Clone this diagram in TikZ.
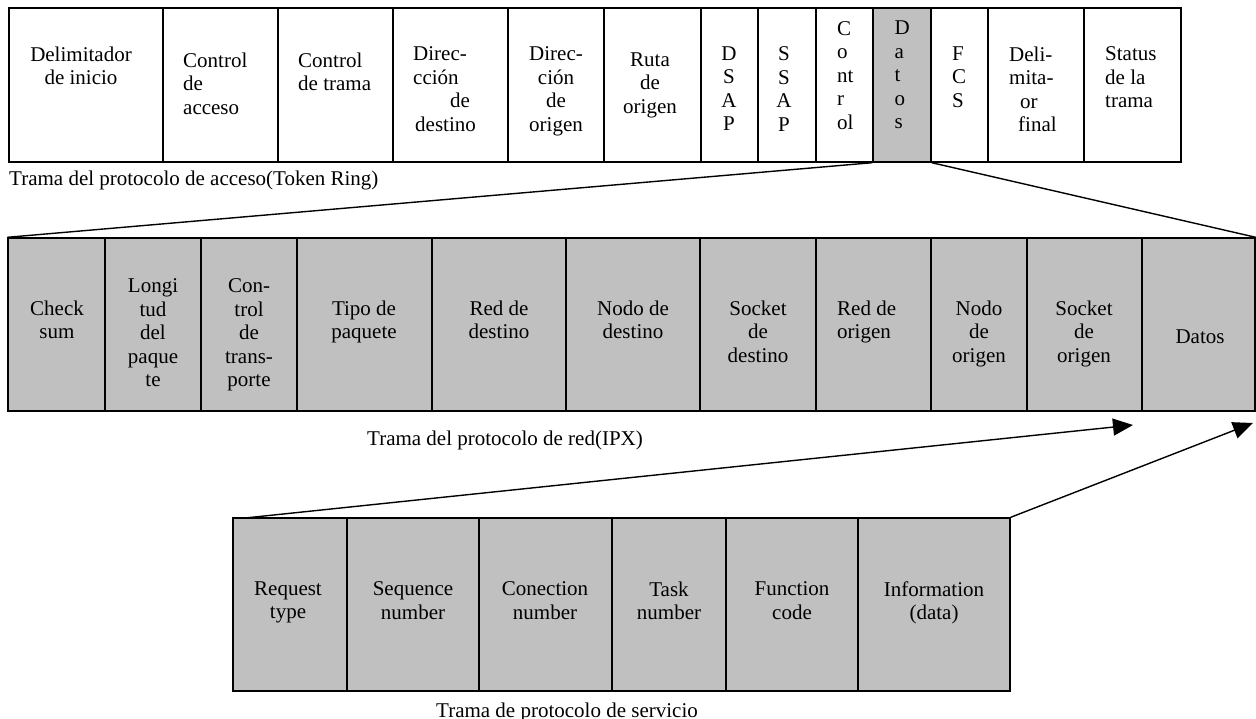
\documentclass[tikz,border=0pt]{standalone}
\usepackage{fontspec}
\setmainfont{Liberation Serif}
\usetikzlibrary{fit,arrows.meta}
\definecolor{fieldgray}{RGB}{192,192,192}
\begin{document}
\begin{tikzpicture}[x=1pt,y=-1pt,
  box/.style={draw=black, line width=1.4pt, inner sep=0pt},
  plain/.style={box, fill=white},
  shaded/.style={box, fill=fieldgray},
  txt/.style={inner sep=0pt, anchor=north, align=center,
    font=\fontsize{21}{23.5}\selectfont, execute at begin node=\strut},
  txtl/.style={txt, anchor=north west, align=left},
  caption/.style={inner sep=0pt, font=\fontsize{21}{23.5}\selectfont},
  link/.style={line width=1.4pt},
  feed/.style={link, -{Triangle[length=20pt,width=17pt]}}]
\useasboundingbox (0,0) rectangle (1256,719);

% ---------- Token Ring frame ----------
\node[plain,  fit={(9,8) (163,162)}]    (tDel)  {};
\node[plain,  fit={(163,8) (278,162)}]  (tAcc)  {};
\node[plain,  fit={(278,8) (393,162)}]  (tFrm)  {};
\node[plain,  fit={(393,8) (508,162)}]  (tDst)  {};
\node[plain,  fit={(508,8) (604,162)}]  (tSrc)  {};
\node[plain,  fit={(604,8) (701,162)}]  (tRut)  {};
\node[plain,  fit={(701,8) (758,162)}]  (tDsap) {};
\node[plain,  fit={(758,8) (816,162)}]  (tSsap) {};
\node[plain,  fit={(816,8) (873,162)}]  (tCtl)  {};
\node[shaded, fit={(873,8) (931,162)}]  (tDat)  {};
\node[plain,  fit={(931,8) (988,162)}]  (tFcs)  {};
\node[plain,  fit={(988,8) (1084,162)}] (tEnd)  {};
\node[plain,  fit={(1084,8) (1181,162)}] (tSta) {};

\node[txt]  (lDel)  at (81,46.5)   {Delimitador\\de inicio};
\node[txtl] (lAcc)  at (183,52.5)  {Control\\de\\acceso};
\node[txtl] (lFrm)  at (298,52.5)  {Control\\de trama};
\node[txtl] (lDst)  at (413,46.5)  {Direc-\\cción\\\hspace*{37pt}de\\\hspace*{2pt}destino};
\node[txt]  (lSrc)  at (556,46.5)  {Direc-\\ción\\de\\origen};
\node[txt]  (lRut)  at (650,52.5)  {Ruta\\de\\origen};
\node[txt]  (lDsap) at (729,46.5)  {D\\S\\A\\P};
\node[txt]  (lSsap) at (784,46.5)  {S\\S\\A\\P};
\node[txtl] (lCtl)  at (837,21)    {C\\o\\nt\\r\\ol};
\node[txtl] (lDat)  at (894.5,21)  {D\\a\\t\\o\\s};
\node[txtl] (lFcs)  at (952,46.5)  {F\\C\\S};
\node[txtl] (lEnd)  at (1009,46.5) {Deli-\\mita-\\\hspace*{11pt}or\\\hspace*{9pt}final};
\node[txtl] (lSta)  at (1105,46.5) {Status\\de la\\trama};

\node[caption, anchor=base west] (capTop) at (9,186) {Trama del protocolo de acceso(Token Ring)};

% ---------- IPX frame ----------
\node[shaded, fit={(8,238) (105,411)}]    (mChk)  {};
\node[shaded, fit={(105,238) (201,411)}]  (mLen)  {};
\node[shaded, fit={(201,238) (297,411)}]  (mTrn)  {};
\node[shaded, fit={(297,238) (432,411)}]  (mTyp)  {};
\node[shaded, fit={(432,238) (566,411)}]  (mDNet) {};
\node[shaded, fit={(566,238) (700,411)}]  (mDNod) {};
\node[shaded, fit={(700,238) (816,411)}]  (mDSck) {};
\node[shaded, fit={(816,238) (931,411)}]  (mSNet) {};
\node[shaded, fit={(931,238) (1027,411)}] (mSNod) {};
\node[shaded, fit={(1027,238) (1142,411)}] (mSSck) {};
\node[shaded, fit={(1142,238) (1255,411)}] (mDat) {};

\node[txt]  (nChk)  at (57,300.5)   {Check\\sum};
\node[txt]  (nLen)  at (153,278.5)  {Longi\\tud\\del\\paque\\te};
\node[txt]  (nTrn)  at (249,278.5)  {Con-\\trol\\de\\trans-\\porte};
\node[txt]  (nTyp)  at (364,300.5)  {Tipo de\\paquete};
\node[txt]  (nDNet) at (499,300.5)  {Red de\\destino};
\node[txt]  (nDNod) at (633,300.5)  {Nodo de\\destino};
\node[txt]  (nDSck) at (758,300.5)  {Socket\\de\\destino};
\node[txtl] (nSNet) at (837,300.5)  {Red de\\origen};
\node[txt]  (nSNod) at (979,300.5)  {Nodo\\de\\origen};
\node[txt]  (nSSck) at (1084,300.5) {Socket\\de\\origen};
\node[txt]  (nDat)  at (1200,326.5) {Datos};

\node[caption, anchor=base] (capMid) at (505,445) {Trama del protocolo de red(IPX)};

% ---------- service frame ----------
\node[shaded, fit={(233,518) (347,691)}]  (bReq) {};
\node[shaded, fit={(347,518) (479,691)}]  (bSeq) {};
\node[shaded, fit={(479,518) (612,691)}]  (bCon) {};
\node[shaded, fit={(612,518) (726,691)}]  (bTsk) {};
\node[shaded, fit={(726,518) (858,691)}]  (bFun) {};
\node[shaded, fit={(858,518) (1010,691)}] (bInf) {};

\node[txt] (sReq) at (288,581.5) {Request\\type};
\node[txt] (sSeq) at (413,581.5) {Sequence\\number};
\node[txt] (sCon) at (545,581.5) {Conection\\number};
\node[txt] (sTsk) at (669,581.5) {Task\\number};
\node[txt] (sFun) at (792,581.5) {Function\\code};
\node[txt] (sInf) at (934,581.5) {Information\\(data)};

\node[caption, anchor=base] (capBot) at (567,717) {Trama de protocolo de servicio};

% ---------- expansion lines ----------
\draw[link] (tDat.south west) -- (mChk.north west);
\draw[link] (tDat.south east) -- (mDat.north east);

\coordinate (reqTop) at (245,518);
\coordinate (tipA) at (1133,425);
\coordinate (tipB) at (1253,423);
\draw[feed] (reqTop) -- (tipA);
\draw[feed] (bInf.north east) -- (tipB);
\end{tikzpicture}
\end{document}
